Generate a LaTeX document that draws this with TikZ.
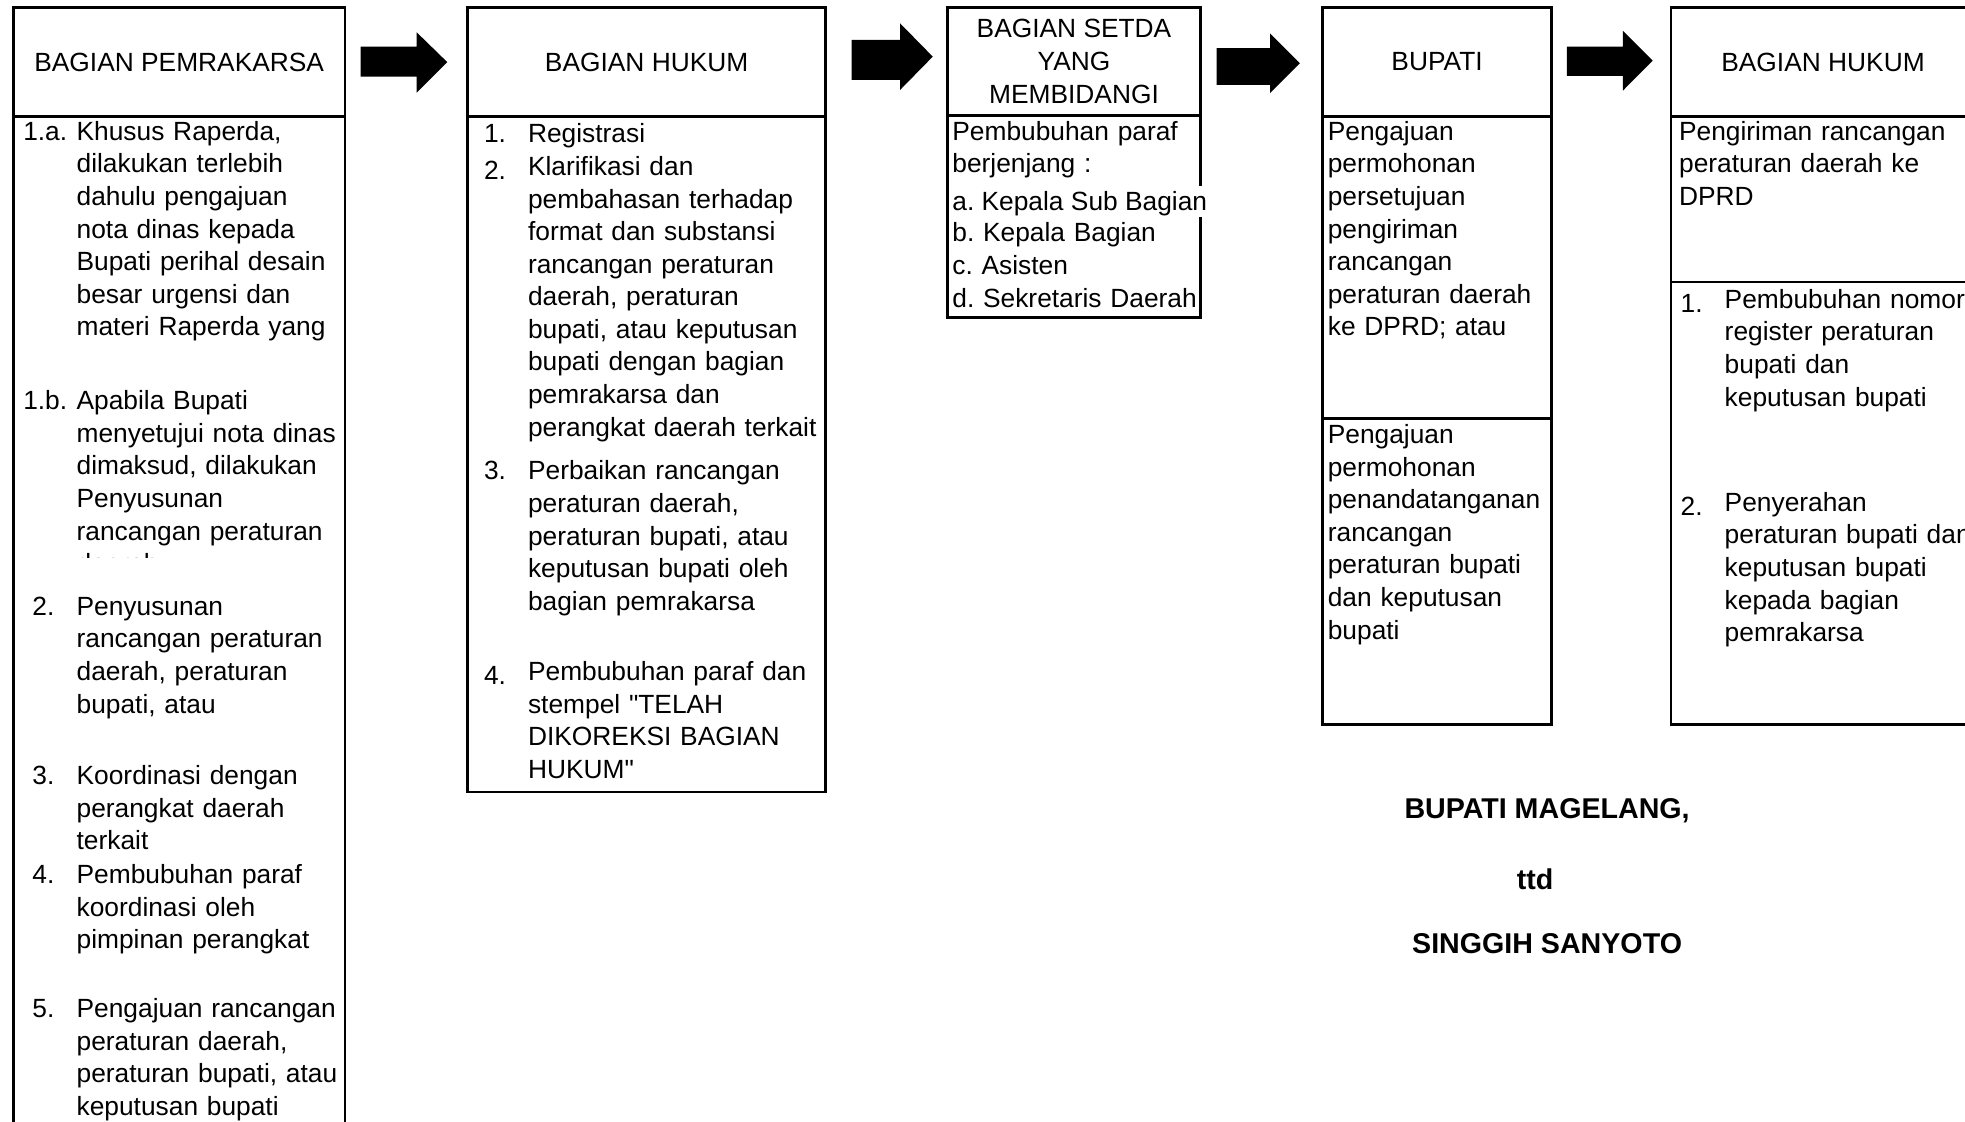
\documentclass[tikz,border=0pt]{standalone}
\usepackage{fontspec}
\setmainfont{Liberation Sans}[Ligatures=TeXOff]
\usepackage{tikz}
\frenchspacing

\begin{document}
\begin{tikzpicture}[x=0.012532cm, y=-0.012532cm,
	cell/.style={line width=0.75pt},
	blockarrow/.style={fill=black},
	head/.style={font=\fontsize{7.49pt}{9.27pt}\selectfont, align=center, inner sep=0pt},
	txt/.style={font=\fontsize{7.49pt}{9.27pt}\selectfont, align=left, text width=6cm, anchor=base west, inner sep=0pt},
	num/.style={font=\fontsize{7.49pt}{9.27pt}\selectfont, anchor=base west, inner sep=0pt},
	sign/.style={font=\fontsize{8.14pt}{10pt}\selectfont\bfseries, anchor=base, inner sep=0pt}]
					\useasboundingbox (0,0) rectangle (1568,895);
					\fill[white] (0,0) rectangle (1568,895);
					\clip (0,0) rectangle (1568,895);

					% boxes
					\draw[cell] (10.6,900) -- (10.6,5.8) -- (275.3,5.8) -- (275.3,900);
					\draw[cell] (10.6,93.1) -- (275.3,93.1);
					\draw[cell] (373.2,5.8) rectangle (658.9,632);
					\draw[cell] (373.2,93.1) -- (658.9,93.1);
					\draw[cell] (755.9,5.8) rectangle (958.1,253.5);
					\draw[cell] (755.9,92) -- (958.1,92);
					\draw[cell] (1055.3,5.8) rectangle (1238.2,578);
					\draw[cell] (1055.3,93.1) -- (1238.2,93.1);
					\draw[cell] (1055.3,334) -- (1238.2,334);
					\draw[cell] (1333.4,5.8) rectangle (1576,578);
					\draw[cell] (1333.4,93.1) -- (1576,93.1);
					\draw[cell] (1333.4,225) -- (1576,225);

					% arrows
					\fill[blockarrow] (287.8,37.3) -- (332.5,37.3) -- (332.5,25.8) -- (356.9,49.6) -- (332.5,74.0) -- (332.5,61.2) -- (287.8,61.2) -- cycle;
					\fill[blockarrow] (679.6,31.9) -- (718.2,31.9) -- (718.2,18.6) -- (744.3,45.2) -- (718.2,71.8) -- (718.2,63.8) -- (679.6,63.8) -- cycle;
					\fill[blockarrow] (970.9,38.5) -- (1013.4,38.5) -- (1013.4,26.6) -- (1037.3,50.5) -- (1013.4,74.4) -- (1013.4,67.8) -- (970.9,67.8) -- cycle;
					\fill[blockarrow] (1250.2,37.3) -- (1294.9,37.3) -- (1294.9,24.5) -- (1318.8,48.4) -- (1294.9,72.4) -- (1294.9,60.6) -- (1250.2,60.6) -- cycle;

					% headers
					\node[head] (hpemrakarsa) at (143,49.5) {BAGIAN PEMRAKARSA};
					\node[head] (hhukum) at (516,49.5) {BAGIAN HUKUM};
					\node[head] (hsetda) at (857,49) {BAGIAN SETDA\\YANG\\MEMBIDANGI};
					\node[head] (hbupati) at (1146.7,49.5) {BUPATI};
					\node[head] (hhukumb) at (1454.7,49.5) {BAGIAN HUKUM};

					% bagian pemrakarsa
					\node[num] (p1a) at (18,112) {1.a.};
					\node[txt] (tp1a) at (60.6,112) {Khusus Raperda,\\dilakukan terlebih\\dahulu pengajuan\\nota dinas kepada\\Bupati perihal desain\\besar urgensi dan\\materi Raperda yang};
					\node[num] (p1b) at (18,327) {1.b.};
					\begin{scope}
						\clip (11,300) rectangle (275,445);
						\node[txt] (tp1b) at (60.6,327) {Apabila Bupati\\menyetujui nota dinas\\dimaksud, dilakukan\\Penyusunan\\rancangan peraturan\\daerah};
					\end{scope}
					\node[num] (p2) at (25.3,491) {2.};
					\node[txt] (tp2) at (60.6,491) {Penyusunan\\rancangan peraturan\\daerah, peraturan\\bupati, atau};
					\node[num] (p3) at (25.3,626) {3.};
					\node[txt] (tp3) at (60.6,626) {Koordinasi dengan\\perangkat daerah\\terkait};
					\node[num] (p4) at (25.3,705) {4.};
					\node[txt] (tp4) at (60.6,705) {Pembubuhan paraf\\koordinasi oleh\\pimpinan perangkat};
					\node[num] (p5) at (25.3,812) {5.};
					\node[txt] (tp5) at (60.6,812) {Pengajuan rancangan\\peraturan daerah,\\peraturan bupati, atau\\keputusan bupati};

					% bagian hukum
					\node[num] (k1) at (385.7,114) {1.};
					\node[txt] (tk1) at (420.8,114) {Registrasi};
					\node[num] (k2) at (385.7,143) {2.};
					\node[txt] (tk2) at (420.8,140) {Klarifikasi dan\\pembahasan terhadap\\format dan substansi\\rancangan peraturan\\daerah, peraturan\\bupati, atau keputusan\\bupati dengan bagian\\pemrakarsa dan\\perangkat daerah terkait};
					\node[num] (k3) at (385.7,383) {3.};
					\node[txt] (tk3) at (420.8,383) {Perbaikan rancangan\\peraturan daerah,\\peraturan bupati, atau\\keputusan bupati oleh\\bagian pemrakarsa};
					\node[num] (k4) at (385.7,546) {4.};
					\node[txt] (tk4) at (420.8,543) {Pembubuhan paraf dan\\stempel "TELAH\\DIKOREKSI BAGIAN\\HUKUM"};

					% bagian setda
					\node[txt] (s1) at (759.4,112) {Pembubuhan paraf\\berjenjang :};
					\node[num, fill=white, text height=7.1pt, text depth=1.8pt] (s2) at (759.4,168) {a. Kepala Sub Bagian};
					\node[txt] (s3) at (759.4,193) {b. Kepala Bagian\\c. Asisten\\d. Sekretaris Daerah};

					% bupati
					\node[txt] (b1) at (1059,112) {Pengajuan\\permohonan\\persetujuan\\pengiriman\\rancangan\\peraturan daerah\\ke DPRD; atau};
					\node[txt] (b2) at (1059,354) {Pengajuan\\permohonan\\penandatanganan\\rancangan\\peraturan bupati\\dan keputusan\\bupati};

					% bagian hukum (akhir)
					\node[txt] (h1) at (1339.3,112) {Pengiriman rancangan\\peraturan daerah ke\\DPRD};
					\node[num] (hn1) at (1340.5,249) {1.};
					\node[txt] (th1) at (1375.7,246) {Pembubuhan nomor\\register peraturan\\bupati dan\\keputusan bupati};
					\node[num] (hn2) at (1340.5,411) {2.};
					\node[txt] (th2) at (1375.7,408) {Penyerahan\\peraturan bupati dan\\keputusan bupati\\kepada bagian\\pemrakarsa};

					% tanda tangan
					\node[sign] (jabatan) at (1234.5,653) {BUPATI MAGELANG,};
					\node[sign] (ttd) at (1225,710) {ttd};
					\node[sign] (nama) at (1234.5,760.5) {SINGGIH SANYOTO};
                \end{tikzpicture}
\end{document}
